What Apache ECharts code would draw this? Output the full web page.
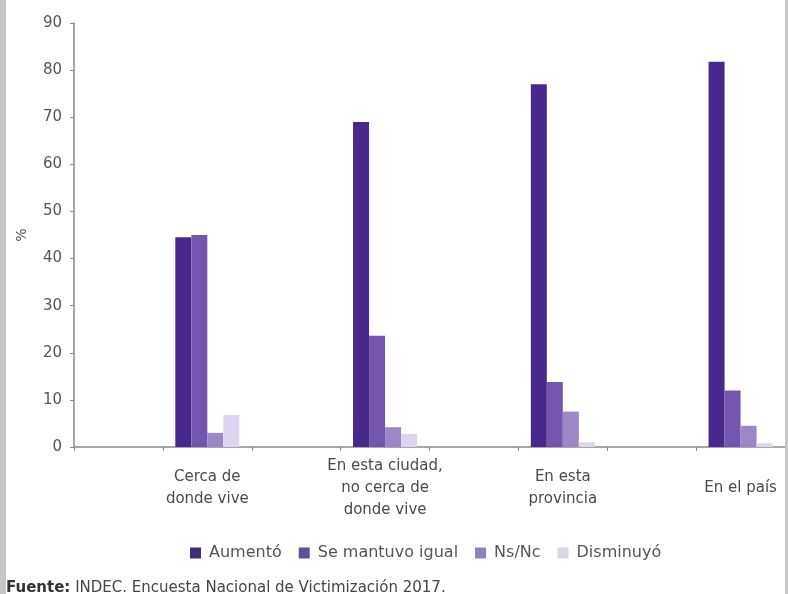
<!DOCTYPE html>
<html>
<head>
<meta charset="utf-8">
<script src="https://cdn.jsdelivr.net/npm/echarts@6/dist/echarts.min.js"></script>
<style>
  html, body { margin: 0; padding: 0; background: #ffffff; }
  #chart { width: 788px; height: 594px; }
</style>
</head>
<body>
<div id="chart"></div>
<script>
// Percepción de la evolución del delito según ámbito geográfico (%)
const categories = [
  'Cerca de\ndonde vive',
  'En esta ciudad,\nno cerca de\ndonde vive',
  'En esta\nprovincia',
  'En el país'
];
const seriesNames = ['Aumentó', 'Se mantuvo igual', 'Ns/Nc', 'Disminuyó'];
const aumento    = [44.5, 69.0, 77.0, 81.8];
const semantuvo  = [45.0, 23.6, 13.8, 12.0];
const nsnc       = [3.0, 4.2, 7.5, 4.5];
const disminuyo  = [6.8, 2.8, 1.0, 0.8];
const yTicks = [0, 10, 20, 30, 40, 50, 60, 70, 80, 90];

const colors       = ['#48288a', '#7456ae', '#9b86c6', '#dcd5ef'];
const legendColors = ['#3e2d78', '#5e4f98', '#8b82b5', '#d7d7ea'];

// Each group sits in every second slot of the axis, leaving a blank slot before it
const axisSlots = [];
categories.forEach(c => { axisSlots.push(''); axisSlots.push(c); });
const spread = vals => {
  const out = [];
  vals.forEach(v => { out.push('-'); out.push(v); });
  return out;
};

const values = [aumento, semantuvo, nsnc, disminuyo];
const font = 'DejaVu Sans';

const chart = echarts.init(document.getElementById('chart'), null, { renderer: 'canvas' });
chart.setOption({
  animation: false,
  backgroundColor: '#ffffff',
  textStyle: { fontFamily: font },
  grid: { left: 74, right: 3, top: 23, bottom: 147, containLabel: false },
  legend: {
    left: 185,
    top: 540,
    itemWidth: 11,
    itemHeight: 11,
    itemGap: 17,
    icon: 'rect',
    textStyle: { fontFamily: font, fontSize: 16, color: '#555555', padding: [0, 0, 0, 3] },
    data: seriesNames.map((n, i) => ({ name: n, itemStyle: { color: legendColors[i] } }))
  },
  xAxis: {
    type: 'category',
    data: axisSlots,
    axisLine: { lineStyle: { color: '#8a8a8a', width: 1.5 } },
    axisTick: { show: true, interval: 0, length: 4, lineStyle: { color: '#8a8a8a' } },
    axisLabel: {
      interval: 0,
      margin: 41,
      verticalAlign: 'middle',
      fontFamily: font,
      fontSize: 15,
      lineHeight: 22,
      color: '#4a4a4a',
      align: 'center'
    },
    splitLine: { show: false }
  },
  yAxis: {
    type: 'value',
    min: yTicks[0],
    max: yTicks[yTicks.length - 1],
    interval: 10,
    name: '%',
    nameLocation: 'middle',
    nameRotate: 90,
    nameGap: 45,
    nameTextStyle: { fontFamily: font, fontSize: 14, color: '#555555' },
    axisLine: { show: true, lineStyle: { color: '#8a8a8a', width: 1.5 } },
    axisTick: { show: true, length: 4, lineStyle: { color: '#8a8a8a' } },
    axisLabel: { margin: 12, fontFamily: font, fontSize: 15, color: '#555555' },
    splitLine: { show: false }
  },
  series: seriesNames.map((n, i) => ({
    name: n,
    type: 'bar',
    data: spread(values[i]),
    barWidth: 16,
    barGap: '0%',
    itemStyle: { color: colors[i] }
  })),
  graphic: [
    { type: 'rect', left: 0, top: 0, z: 100, shape: { width: 6, height: 594 }, style: { fill: '#c6c6c6' } },
    { type: 'rect', left: 785, top: 0, z: 100, shape: { width: 3, height: 594 }, style: { fill: '#c6c6c6' } },
    {
      type: 'text', left: 6, top: 581, z: 100,
      style: {
        text: '{b|Fuente:} INDEC. Encuesta Nacional de Victimización 2017.',
        rich: {
          b: { fontFamily: font, fontSize: 15, fontWeight: 'bold', fill: '#333333' }
        },
        font: '15px "DejaVu Sans"',
        fill: '#444444'
      }
    }
  ]
});
</script>
</body>
</html>
